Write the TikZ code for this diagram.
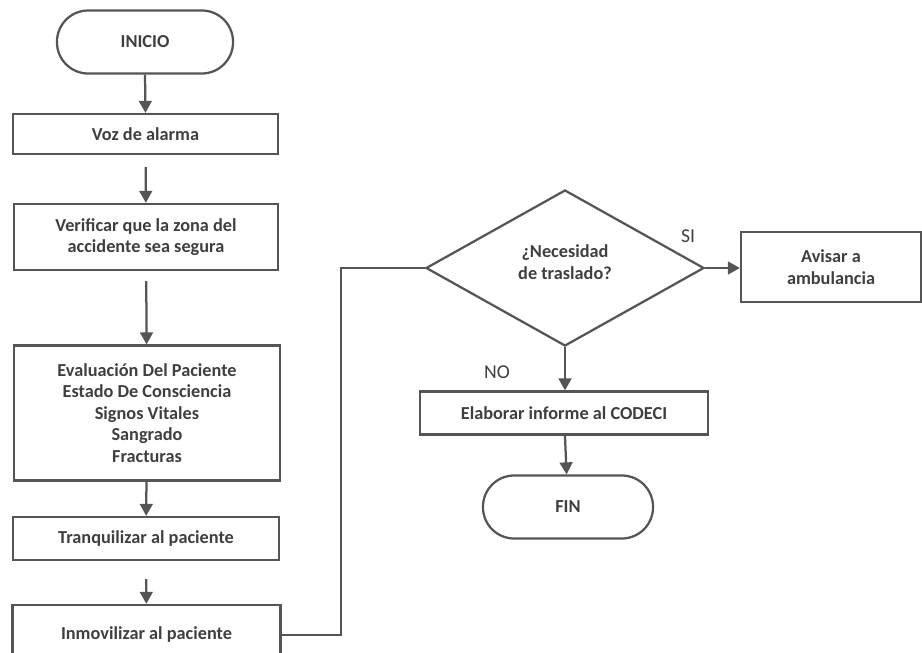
\documentclass[tikz,border=0pt]{standalone}
\usepackage{fontspec}
\setmainfont{Carlito}
\usetikzlibrary{arrows.meta,shapes.geometric}
\definecolor{linea}{HTML}{555555}
\definecolor{texto}{HTML}{3F3F3F}

\begin{document}
\begin{tikzpicture}[x=0.025cm, y=-0.025cm, >={Triangle[length=3mm,width=3.2mm]}, font=\fontsize{13}{15.3}\selectfont\bfseries, line width=1.6pt, color=linea, text=texto,
    caja/.style={draw, align=center, inner sep=2pt},
    terminal/.style={caja, rounded corners=0.78cm},
    decision/.style={draw, diamond, align=center, inner sep=0pt},
    etiqueta/.style={font=\fontsize{14}{16}\selectfont}]
    \useasboundingbox (0,0) rectangle (922,652);
    \clip (0,0) rectangle (922,652);
    \node[terminal, minimum width=4.4cm, minimum height=1.575cm] (inicio) at (145,42) {INICIO};
    \node[caja, minimum width=6.625cm, minimum height=1cm] (voz) at (145.5,134) {Voz de alarma};
    \node[caja, minimum width=6.6cm, minimum height=1.65cm] (verif) at (146,237) {Verificar que la zona del\\accidente sea segura};
    \node[caja, minimum width=6.65cm, minimum height=3.375cm] (eval) at (147,413) {Evaluación Del Paciente\\Estado De Consciencia\\Signos Vitales\\Sangrado\\Fracturas};
    \node[caja, minimum width=6.65cm, minimum height=1.075cm] (tranq) at (146,538.5) {Tranquilizar al paciente};
    \node[caja, minimum width=6.7cm, minimum height=1.5cm] (inmov) at (146.5,635) {Inmovilizar al paciente};
    \node[decision, minimum width=6.95cm, minimum height=3.9cm] (traslado) at (565,268) {¿Necesidad\\de traslado?\\[-7pt]};
    \node[caja, minimum width=4.5cm, minimum height=1.75cm] (avisar) at (831,267) {Avisar a\\ambulancia};
    \node[caja, minimum width=7.2cm, minimum height=1.075cm] (informe) at (564,413) {Elaborar informe al CODECI};
    \node[terminal, minimum width=4.25cm, minimum height=1.575cm] (fin) at (568,507) {FIN};
    \node[etiqueta] (si) at (688,236) {SI};
    \node[etiqueta] (no) at (497,372) {NO};
    \draw[->] (inicio.south) -- (voz.north);
    \draw[->, shorten <=0.3cm] (voz) -- (verif);
    \draw[->, shorten <=0.25cm] (verif) -- (eval);
    \draw[->] (eval) -- (tranq);
    \draw[->, shorten <=0.45cm] (tranq) -- (inmov);
    \draw (inmov.east) -- ++(59,0) |- (traslado.west);
    \draw[->] (traslado.east) -- (traslado.east -| avisar.west);
    \draw[->] (traslado.south) -- (traslado.south |- informe.north);
    \draw[->] (informe) -- (fin);
\end{tikzpicture}
\end{document}
